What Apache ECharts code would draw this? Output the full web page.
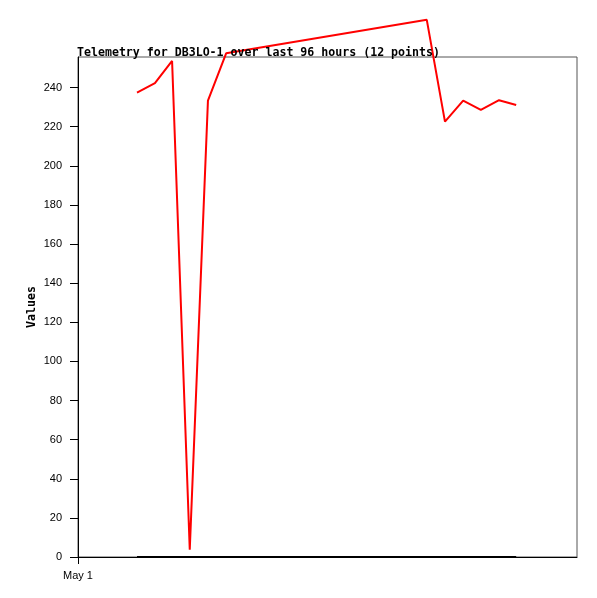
<!DOCTYPE html>
<html>
<head>
<meta charset="utf-8">
<script src="https://cdn.jsdelivr.net/npm/echarts@6/dist/echarts.min.js"></script>
<style>html,body{margin:0;padding:0;background:#fff}#c{width:597px;height:598px}</style>
</head>
<body>
<div id="c"></div>
<script>
// hours since May 1 00:00
var hours = [11.35, 14.8, 18.1, 21.5, 25.0, 28.5, 67.1, 70.6, 74.1, 77.5, 81.0, 84.3];
var values = [237.4, 242.2, 253.6, 3.7, 233.3, 257.5, 274.6, 222.6, 233.3, 228.6, 233.5, 231.1];
var baseline = [0, 0, 0, 0, 0, 0, 0, 0, 0, 0, 0, 0];
var yTicks = [0, 20, 40, 60, 80, 100, 120, 140, 160, 180, 200, 220, 240];
var xTickLabels = ['May 1'];

var chart = echarts.init(document.getElementById('c'), null, {renderer: 'canvas'});
chart.setOption({
  animation: false,
  backgroundColor: '#fff',
  title: {
    text: 'Telemetry for DB3LO-1 over last 96 hours (12 points)',
    left: 72, top: 42,
    textStyle: {fontFamily: 'DejaVu Sans Mono', fontWeight: 'bold', fontSize: 11.6, color: '#000'}
  },
  grid: {left: 78, right: 20, top: 57, bottom: 41, show: true, borderColor: '#555', borderWidth: 1},
  xAxis: {
    type: 'value', min: 0, max: 96,
    axisLine: {show: true, lineStyle: {color: '#000', width: 1}},
    splitLine: {show: false},
    axisTick: {show: true, length: 7, customValues: [0], lineStyle: {color: '#000'}},
    axisLabel: {customValues: [0], margin: 13, fontFamily: 'Liberation Sans', fontSize: 11, color: '#000',
      formatter: function (v) { return v === 0 ? xTickLabels[0] : ''; }}
  },
  yAxis: {
    type: 'value', min: 0, max: 255.6,
    name: 'Values', nameLocation: 'middle', nameRotate: 90, nameGap: 40, nameMoveOverlap: false,
    nameTextStyle: {fontFamily: 'DejaVu Sans Mono', fontWeight: 'bold', fontSize: 11.6, color: '#000'},
    axisLine: {show: true, lineStyle: {color: '#000', width: 1}},
    splitLine: {show: false},
    axisTick: {show: true, length: 8, customValues: yTicks, lineStyle: {color: '#000'}},
    axisLabel: {customValues: yTicks, margin: 16, fontFamily: 'Liberation Sans', fontSize: 11, color: '#000'}
  },
  series: [
    {
      type: 'line', clip: false, showSymbol: false, symbol: 'none',
      data: hours.map(function (h, i) { return [h, baseline[i]]; }),
      lineStyle: {color: '#000', width: 2}, z: 3
    },
    {
      type: 'line', clip: false, showSymbol: false, symbol: 'none',
      data: hours.map(function (h, i) { return [h, values[i]]; }),
      lineStyle: {color: '#ff0000', width: 2}, z: 4
    }
  ]
});
</script>
</body>
</html>
